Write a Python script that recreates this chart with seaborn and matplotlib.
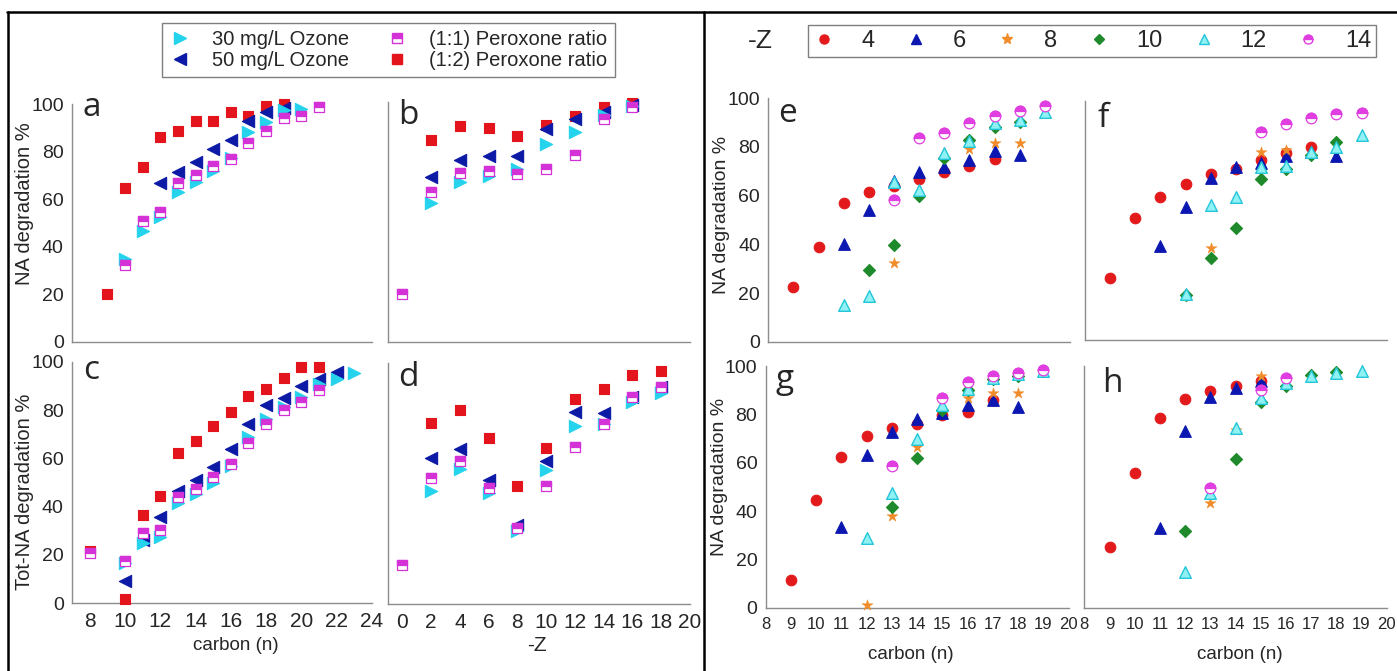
import matplotlib
matplotlib.use('Agg')
import matplotlib.pyplot as plt
from matplotlib.markers import MarkerStyle
from matplotlib.lines import Line2D
import seaborn as sns

W, H = 1397, 671

# ---------------- data (left block: a-d) ----------------
a_n_o30 = [10, 11, 12, 13, 14, 15, 16, 17, 18, 19, 20]
a_o30 = [34.6, 46.7, 52.6, 63.1, 67.3, 71.9, 77.4, 88.1, 92.6, 97.4, 97.8]
a_n_o50 = [12, 13, 14, 15, 16, 17, 18, 19]
a_o50 = [66.6, 71.5, 75.7, 80.9, 84.8, 92.8, 96.5, 98.2]
a_n_p11 = [10, 11, 12, 13, 14, 15, 16, 17, 18, 19, 20, 21]
a_p11 = [32.2, 50.9, 54.7, 66.6, 70.2, 73.9, 76.8, 83.4, 88.6, 94.0, 94.9, 98.9]
a_n_p12 = [9, 10, 11, 12, 13, 14, 15, 16, 17, 18, 19]
a_p12 = [20.0, 64.5, 73.5, 86.2, 88.8, 92.8, 93.0, 96.5, 95.1, 99.2, 100.0]

b_z_p11 = [0, 2, 4, 6, 8, 10, 12, 14, 16]
b_p11 = [20.1, 62.8, 70.7, 71.4, 70.1, 72.2, 77.9, 92.9, 97.9]
b_z = [2, 4, 6, 8, 10, 12, 14, 16]
b_o30 = [58.2, 66.9, 69.4, 72.4, 82.6, 87.6, 94.7, 98.5]
b_o50 = [68.8, 76.0, 77.8, 77.8, 88.8, 92.9, 96.1, 98.9]
b_p12 = [84.3, 90.1, 89.2, 86.0, 90.6, 94.4, 97.9, 99.6]

c_n_p12 = [8, 10, 11, 12, 13, 14, 15, 16, 17, 18, 19, 20, 21]
c_p12 = [21.8, 1.7, 36.7, 44.4, 62.3, 67.3, 73.2, 79.3, 85.9, 88.7, 93.4, 97.7, 97.9]
c_n_p11 = [8, 10, 11, 12, 13, 14, 15, 16, 17, 18, 19, 20, 21]
c_p11 = [20.7, 17.5, 29.0, 30.3, 44.1, 47.4, 52.4, 57.7, 66.2, 74.1, 80.0, 83.4, 88.3]
c_n_o50 = [10, 11, 12, 13, 14, 15, 16, 17, 18, 19, 20, 21, 22]
c_o50 = [9.2, 26.2, 35.9, 46.5, 51.0, 56.4, 63.9, 74.1, 82.1, 84.8, 89.9, 92.7, 95.9]
c_n_o30 = [10, 11, 12, 13, 14, 15, 16, 17, 18, 19, 20, 21, 22, 23]
c_o30 = [16.8, 25.1, 27.3, 41.4, 45.2, 49.9, 56.8, 69.0, 76.3, 81.4, 85.2, 90.8, 92.7, 95.2]

d_z_p11 = [0, 2, 4, 6, 8, 10, 12, 14, 16, 18]
d_p11 = [16.1, 52.1, 59.4, 48.1, 31.4, 49.1, 65.2, 74.8, 85.9, 89.8]
d_z = [2, 4, 6, 8, 10, 12, 14, 16, 18]
d_p12 = [75.2, 80.3, 68.7, 49.0, 64.8, 85.1, 89.0, 95.0, 96.6]
d_o50 = [60.7, 64.1, 51.4, 32.8, 59.4, 79.7, 79.3, 85.7, 90.1]
d_o30 = [47.0, 55.9, 45.9, 30.5, 55.6, 73.8, 74.6, 83.9, 87.3]

# ---------------- data (right block: e-h), by -Z ----------------
e_n4 = [9, 10, 11, 12, 13, 14, 15, 16, 17]
e_z4 = [22.5, 38.8, 56.8, 61.6, 64.0, 67.0, 69.6, 72.1, 74.9]
e_n6 = [11, 12, 13, 14, 15, 16, 17, 18]
e_z6 = [40.0, 54.1, 66.0, 69.6, 71.9, 74.7, 78.4, 76.6]
e_n8 = [13, 16, 17, 18]
e_z8 = [32.2, 79.2, 81.5, 81.5]
e_n10 = [12, 13, 14, 15, 16, 17, 18]
e_z10 = [29.5, 39.7, 60.0, 75.3, 82.9, 88.4, 90.4]
e_n12 = [11, 12, 13, 14, 15, 16, 17, 18, 19]
e_z12 = [14.9, 18.8, 65.8, 62.3, 77.4, 82.5, 89.7, 91.1, 94.5]
e_n14 = [13, 14, 15, 16, 17, 18, 19]
e_z14 = [58.2, 83.6, 85.6, 90.0, 92.7, 94.8, 96.8]

f_n4 = [9, 10, 11, 12, 13, 14, 15, 16, 17]
f_z4 = [26.0, 50.8, 59.9, 65.2, 69.2, 71.3, 75.2, 78.3, 80.8]
f_n6 = [11, 12, 13, 14, 15, 16, 17, 18]
f_z6 = [39.4, 55.4, 67.5, 72.1, 74.1, 77.0, 78.4, 77.0]
f_n8 = [13, 15, 16]
f_z8 = [38.3, 78.4, 79.4]
f_n10 = [12, 13, 14, 15, 16, 17, 18]
f_z10 = [18.8, 34.4, 46.7, 67.3, 71.3, 77.3, 82.9]
f_n12 = [12, 13, 14, 15, 16, 17, 18, 19]
f_z12 = [19.1, 56.4, 59.9, 72.1, 72.7, 78.7, 80.8, 85.7]
f_n14 = [15, 16, 17, 18, 19]
f_z14 = [86.8, 90.3, 92.9, 94.4, 94.7]

g_n4 = [9, 10, 11, 12, 13, 14, 15, 16, 17]
g_z4 = [11.4, 44.4, 62.3, 71.0, 74.5, 75.9, 79.6, 81.0, 85.9]
g_n6 = [11, 12, 13, 14, 15, 16, 17, 18]
g_z6 = [33.5, 63.0, 72.7, 78.2, 80.7, 83.7, 85.9, 83.2]
g_n8 = [12, 13, 14, 16, 17, 18]
g_z8 = [1.1, 38.1, 66.6, 86.6, 88.7, 88.7]
g_n10 = [13, 14, 15, 16, 17, 18]
g_z10 = [41.7, 62.1, 81.8, 90.0, 94.5, 95.9]
g_n12 = [12, 13, 14, 15, 16, 17, 18, 19]
g_z12 = [29.0, 47.3, 69.7, 83.9, 90.3, 94.9, 96.7, 97.8]
g_n14 = [13, 15, 16, 17, 18, 19]
g_z14 = [58.8, 86.9, 93.5, 95.9, 97.2, 98.3]

h_n4 = [9, 10, 11, 12, 13, 14, 15]
h_z4 = [25.2, 56.0, 78.7, 86.2, 89.8, 91.9, 93.8]
h_n6 = [11, 12, 13, 14, 15]
h_z6 = [33.3, 73.2, 87.3, 91.1, 93.8]
h_n8 = [13, 14, 15]
h_z8 = [43.6, 73.6, 96.0]
h_n10 = [12, 14, 15, 16, 17, 18]
h_z10 = [31.9, 61.6, 85.3, 91.7, 96.3, 97.7]
h_n12 = [12, 13, 14, 15, 16, 17, 18, 19]
h_z12 = [15.1, 47.5, 74.3, 86.9, 92.8, 96.0, 97.0, 98.1]
h_n14 = [13, 15, 16]
h_z14 = [49.5, 90.1, 94.9]

left_labels = ['30 mg/L Ozone', '50 mg/L Ozone', '(1:1) Peroxone ratio', '(1:2) Peroxone ratio']
z_labels = ['4', '6', '8', '10', '12', '14']

# ---------------- style ----------------
sns.set_style('white')
plt.rcParams['font.family'] = ['Liberation Sans', 'DejaVu Sans']

CYAN = '#25d3ec'
BLUE = '#0c1aa6'
MAG = '#d431d6'
RED = '#e3141b'
R_RED = '#e31a1c'
R_BLUE = '#0b17b0'
ORANGE = '#f08c2a'
GREEN = '#1f8a2b'
CY_FACE = '#8ff1f3'
CY_EDGE = '#22c6d8'
R_MAG = '#e03ee0'
GRAY = '#8c8c8c'

fig = plt.figure(figsize=(W / 100, H / 100), dpi=100)


def add_ax(l, r, t, b):
    return fig.add_axes([l / W, 1 - b / H, (r - l) / W, (b - t) / H])


def style(ax, xlim, xticks, xlab, ylab, xfs, yfs=14):
    ax.set_xlim(*xlim)
    ax.set_ylim(0, 100)
    ax.set_facecolor('white')
    for s in ['top', 'right']:
        ax.spines[s].set_visible(False)
    for s in ['left', 'bottom']:
        ax.spines[s].set_color(GRAY)
        ax.spines[s].set_linewidth(1.0)
    ax.set_xticks(xticks)
    ax.set_yticks(range(0, 101, 20))
    ax.tick_params(axis='both', direction='out', length=4.5, width=1, color=GRAY)
    ax.tick_params(axis='y', pad=1.5, labelsize=yfs)
    ax.tick_params(axis='x', pad=2, labelsize=xfs)
    if not xlab:
        ax.set_xticklabels([])
    if not ylab:
        ax.set_yticklabels([])


def pts(ax, x, y, marker, face, edge, s, lw=0.8, z=3):
    sns.scatterplot(x=x, y=y, ax=ax, marker=marker, color=face, edgecolor=edge,
                    s=s, linewidth=lw, clip_on=False, zorder=z, legend=False)


def half(ax, x, y, base, color, s, z=3):
    pts(ax, x, y, base, 'white', color, s, lw=0.9, z=z)
    pts(ax, x, y, MarkerStyle(base, fillstyle='top'), color, color, s, lw=0.9, z=z + 0.1)


def left_panel(ax, xo30, yo30, xo50, yo50, xp11, yp11, xp12, yp12):
    pts(ax, xp12, yp12, 's', RED, RED, 52, z=3)
    pts(ax, xo50, yo50, '<', BLUE, BLUE, 78, z=4)
    pts(ax, xo30, yo30, '>', CYAN, CYAN, 78, z=5)
    half(ax, xp11, yp11, 's', MAG, 46, z=6)


def right_panel(ax, n4, z4, n6, z6, n8, z8, n10, z10, n12, z12, n14, z14):
    pts(ax, n4, z4, 'o', R_RED, R_RED, 58, z=3)
    pts(ax, n6, z6, '^', R_BLUE, R_BLUE, 70, z=4)
    pts(ax, n8, z8, '*', ORANGE, ORANGE, 70, lw=0.3, z=5)
    pts(ax, n10, z10, 'D', GREEN, GREEN, 38, z=6)
    pts(ax, n12, z12, '^', CY_FACE, CY_EDGE, 70, lw=1.0, z=7)
    half(ax, n14, z14, 'o', R_MAG, 58, z=8)


# ---- left block ----
ax_a = add_ax(72, 372, 104, 341.5)
ax_b = add_ax(388, 690, 102.3, 342.3)
ax_c = add_ax(72, 372, 361.7, 603.3)
ax_d = add_ax(388, 690, 362.7, 604.3)

left_panel(ax_a, a_n_o30, a_o30, a_n_o50, a_o50, a_n_p11, a_p11, a_n_p12, a_p12)
left_panel(ax_b, b_z, b_o30, b_z, b_o50, b_z_p11, b_p11, b_z, b_p12)
left_panel(ax_c, c_n_o30, c_o30, c_n_o50, c_o50, c_n_p11, c_p11, c_n_p12, c_p12)
left_panel(ax_d, d_z, d_o30, d_z, d_o50, d_z_p11, d_p11, d_z, d_p12)

style(ax_a, (7, 24), range(7, 25, 1), False, True, 15)
style(ax_b, (-1, 20), range(0, 21, 2), False, False, 15)
style(ax_c, (7, 24), range(8, 25, 2), True, True, 15)
style(ax_d, (-1, 20), range(0, 21, 2), True, False, 15)

ax_a.set_ylabel('NA degradation %', fontsize=14.5)
ax_a.yaxis.set_label_coords(-0.125, 0.58)
ax_c.set_ylabel('Tot-NA degradation %', fontsize=14.5)
ax_c.yaxis.set_label_coords(-0.125, 0.46)
ax_c.set_xlabel('carbon (n)', fontsize=13.5)
ax_c.xaxis.set_label_coords(0.545, -0.14)
ax_d.set_xlabel('-Z', fontsize=15)
ax_d.xaxis.set_label_coords(0.493, -0.13)

# ---- right block ----
ax_e = add_ax(768.3, 1070, 98.3, 341.7)
ax_f = add_ax(1085, 1386.7, 100.7, 340)
ax_g = add_ax(765.7, 1068.5, 366, 607.7)
ax_h = add_ax(1084.3, 1386.7, 366, 608.3)

right_panel(ax_e, e_n4, e_z4, e_n6, e_z6, e_n8, e_z8, e_n10, e_z10, e_n12, e_z12, e_n14, e_z14)
right_panel(ax_f, f_n4, f_z4, f_n6, f_z6, f_n8, f_z8, f_n10, f_z10, f_n12, f_z12, f_n14, f_z14)
right_panel(ax_g, g_n4, g_z4, g_n6, g_z6, g_n8, g_z8, g_n10, g_z10, g_n12, g_z12, g_n14, g_z14)
right_panel(ax_h, h_n4, h_z4, h_n6, h_z6, h_n8, h_z8, h_n10, h_z10, h_n12, h_z12, h_n14, h_z14)

style(ax_e, (8, 20), range(8, 21), False, True, 12)
style(ax_f, (8, 20), range(8, 21), False, False, 12)
style(ax_g, (8, 20), range(8, 21), True, True, 12)
style(ax_h, (8, 20), range(8, 21), True, False, 12)

ax_e.set_ylabel('NA degradation %', fontsize=14)
ax_e.yaxis.set_label_coords(-0.127, 0.52)
ax_g.set_ylabel('NA degradation %', fontsize=14)
ax_g.yaxis.set_label_coords(-0.124, 0.54)
ax_g.set_xlabel('carbon (n)', fontsize=13.5)
ax_g.xaxis.set_label_coords(0.479, -0.16)
ax_h.set_xlabel('carbon (n)', fontsize=13.5)
ax_h.xaxis.set_label_coords(0.513, -0.155)

# ---- panel letters ----
letters = [('a', 82, 116), ('b', 398, 124), ('c', 83, 379), ('d', 398, 386),
           ('e', 778, 122), ('f', 1097, 127), ('g', 776, 388), ('h', 1102, 392)]
for txt, x, y in letters:
    fig.text(x / W, 1 - y / H, txt, fontsize=24, ha='left', va='baseline',
             family=['Open Sans', 'DejaVu Sans'])

# ---- legends ----
lh = [Line2D([], [], ls='', marker='>', ms=8.5, color=CYAN, mec=CYAN),
      Line2D([], [], ls='', marker='<', ms=8.5, color=BLUE, mec=BLUE),
      Line2D([], [], ls='', marker='s', ms=6.5, mfc=MAG, mfcalt='white', mec=MAG, fillstyle='top'),
      Line2D([], [], ls='', marker='s', ms=6.5, color=RED, mec=RED)]
leg1 = fig.legend(lh, left_labels, loc='center', bbox_to_anchor=(388.5 / W, 1 - 50 / H),
                  ncol=2, frameon=True, fancybox=False, edgecolor='#7f7f7f', fontsize=14.5,
                  handlelength=1.0, handletextpad=1.1, columnspacing=1.9,
                  labelspacing=0.1, borderpad=0.35, framealpha=1)
leg1.get_frame().set_linewidth(1.0)

rh = [Line2D([], [], ls='', marker='o', ms=6.5, color=R_RED, mec=R_RED),
      Line2D([], [], ls='', marker='^', ms=7, color=R_BLUE, mec=R_BLUE),
      Line2D([], [], ls='', marker='*', ms=8, color=ORANGE, mec=ORANGE),
      Line2D([], [], ls='', marker='D', ms=5.5, color=GREEN, mec=GREEN),
      Line2D([], [], ls='', marker='^', ms=7, mfc=CY_FACE, mec=CY_EDGE),
      Line2D([], [], ls='', marker='o', ms=6.5, mfc=R_MAG, mfcalt='white', mec=R_MAG, fillstyle='top')]
leg2 = fig.legend(rh, z_labels, loc='center', bbox_to_anchor=(1092 / W, 1 - 41 / H),
                  ncol=6, frameon=True, fancybox=False, edgecolor='#7f7f7f', fontsize=17,
                  handlelength=1.0, handletextpad=1.07, columnspacing=1.25,
                  borderpad=0.2, framealpha=1)
leg2.get_frame().set_linewidth(1.0)
fig.text(760 / W, 1 - 41 / H, '-Z', fontsize=19, ha='center', va='center')

# ---- frame lines ----
for xs, ys in [((7, 1397), (12, 12)), ((7.5, 7.5), (12, 671)), ((704, 704), (12, 671))]:
    fig.add_artist(Line2D([x / W for x in xs], [1 - y / H for y in ys],
                          transform=fig.transFigure, color='black', lw=1.8))

fig.savefig('out.png', dpi=100)
